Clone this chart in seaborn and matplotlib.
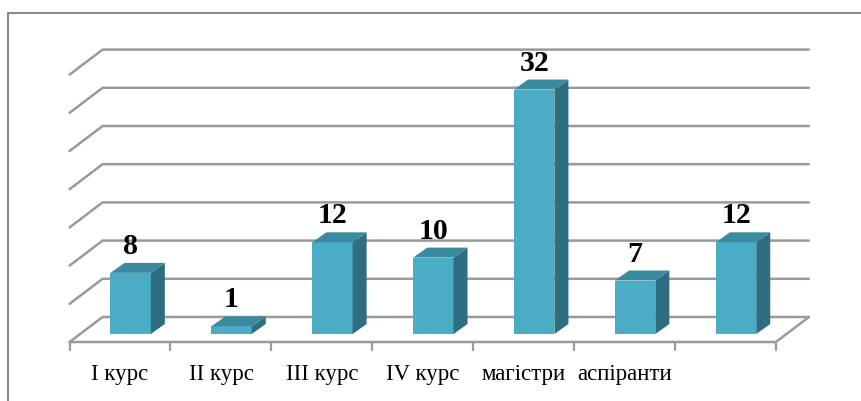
import numpy as np
import pandas as pd
import seaborn as sns
import matplotlib
matplotlib.use("Agg")
import matplotlib.pyplot as plt
from matplotlib.patches import Polygon
from matplotlib.lines import Line2D

# Number of respondents per study group
categories = ["I курс", "II курс", "III курс", "IV курс", "магістри", "аспіранти", ""]
values = [8, 1, 12, 10, 32, 7, 12]
grid_values = [0, 5, 10, 15, 20, 25, 30, 35]

FRONT = "#4bacc6"
TOP = "#3a8aa0"
SIDE = "#2f6e80"
GRID = "#9a9a9a"

sns.set_theme(style="white")
plt.rcParams["font.family"] = ["Liberation Serif", "DejaVu Serif"]

DPI = 100
W, H = 861, 401
fig = plt.figure(figsize=(W / DPI, H / DPI), dpi=DPI)
fig.patch.set_facecolor("white")

# Axes in the plane of the bar front faces (pixel layout)
left_px, right_px = 80.2, 786.5
zero_px_from_top = 334.0
px_per_unit = 7.64
ymax = 35
ax = fig.add_axes([left_px / W, (H - zero_px_from_top) / H,
                   (right_px - left_px) / W, ymax * px_per_unit / H])
ax.set_facecolor("none")

df = pd.DataFrame({"group": categories, "count": values})
sns.barplot(data=df, x="group", y="count", order=categories, color=FRONT,
            saturation=1, width=0.4, linewidth=0, ax=ax, zorder=3)

ax.set_xlim(-0.5, len(categories) - 0.5)
ax.set_ylim(0, ymax)
for s in ax.spines.values():
    s.set_visible(False)
ax.set_xticks([])
ax.set_yticks([])
ax.set_xlabel("")
ax.set_ylabel("")

to_disp = ax.transData.transform
to_data = ax.transData.inverted().transform


def shift(pt, dx, dy):
    """Move a data point by (dx, dy) display pixels, returning data coords."""
    d = to_disp(pt)
    return to_data((d[0] + dx, d[1] + dy))


# Depth offsets in pixels relative to the bar front plane
BACK = (22.4, 17.0)
FRONT_EDGE = (-10.6, -8.0)
BAR_DEPTH = (14.0, 10.0)

x0, x1 = -0.5, len(categories) - 0.5

# Back wall gridlines with the side-wall diagonals
for v in grid_values:
    b0 = shift((x0, v), *BACK)
    b1 = shift((x1, v), *BACK)
    f0 = shift((x0, v), *FRONT_EDGE)
    ax.add_line(Line2D([f0[0], b0[0], b1[0]], [f0[1], b0[1], b1[1]],
                       color=GRID, lw=1.8, clip_on=False, zorder=1,
                       solid_joinstyle="miter"))

# Floor front edge and right diagonal
f0 = shift((x0, 0), *FRONT_EDGE)
f1 = shift((x1, 0), *FRONT_EDGE)
b1 = shift((x1, 0), *BACK)
ax.add_line(Line2D([f0[0], f1[0], b1[0]], [f0[1], f1[1], b1[1]],
                   color=GRID, lw=1.8, clip_on=False, zorder=1))

# Category tick marks below the floor front edge
for i in range(len(categories) + 1):
    t_top = shift((x0 + i, 0), *FRONT_EDGE)
    t_bot = shift((x0 + i, 0), FRONT_EDGE[0], FRONT_EDGE[1] - 8)
    ax.add_line(Line2D([t_top[0], t_bot[0]], [t_top[1], t_bot[1]],
                       color=GRID, lw=1.6, clip_on=False, zorder=1))

# Category labels
for i, name in enumerate(categories):
    p = shift((i, 0), FRONT_EDGE[0], -46)
    ax.text(p[0], p[1], name, ha="center", va="baseline", fontsize=16.5,
            color="black", clip_on=False)

# Top and side faces of each bar plus value labels
for patch, v in zip(ax.patches, values):
    bx = patch.get_x()
    bw = patch.get_width()
    bh = patch.get_height()
    fl = (bx, bh)
    fr = (bx + bw, bh)
    top = [fl, fr, shift(fr, *BAR_DEPTH), shift(fl, *BAR_DEPTH)]
    side = [(bx + bw, 0), fr, shift(fr, *BAR_DEPTH), shift((bx + bw, 0), *BAR_DEPTH)]
    ax.add_patch(Polygon(side, closed=True, facecolor=SIDE, edgecolor="none",
                         zorder=3, clip_on=False))
    ax.add_patch(Polygon(top, closed=True, facecolor=TOP, edgecolor="none",
                         zorder=3, clip_on=False))
    lp = shift((bx + bw / 2, bh), 0, 19)
    ax.text(lp[0], lp[1], f"{v}", ha="center", va="baseline", fontsize=21.5,
            fontweight="bold", color="black", clip_on=False, zorder=4)

# Chart area border (continues past the right and bottom edges)
bx_px, by_px = 8.0, 13.0
fig.add_artist(Line2D([bx_px / W, 1.01], [1 - by_px / H, 1 - by_px / H],
                      transform=fig.transFigure, color="#8a8a8a", lw=1.5))
fig.add_artist(Line2D([bx_px / W, bx_px / W], [1 - by_px / H, -0.01],
                      transform=fig.transFigure, color="#8a8a8a", lw=1.5))

fig.savefig("out.png", dpi=DPI)
